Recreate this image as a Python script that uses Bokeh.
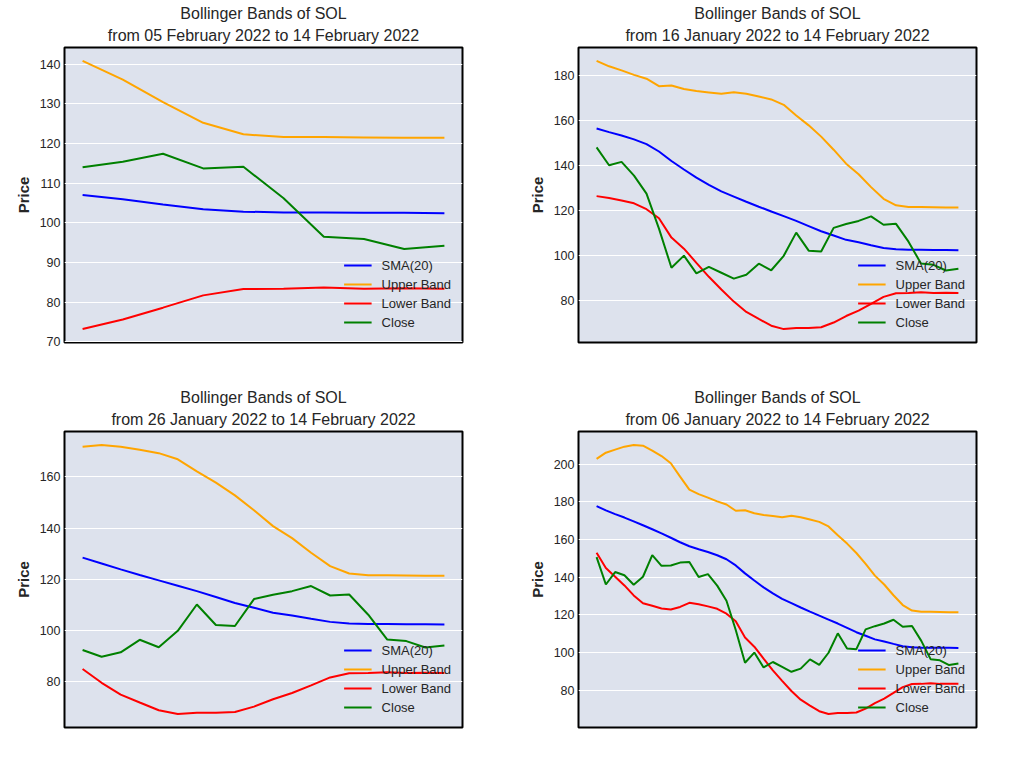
import pandas as pd
from bokeh.plotting import figure
from bokeh.layouts import column, row
from bokeh.models import Range1d, FixedTicker, ColumnDataSource, Title
from bokeh.embed import file_html
from bokeh.resources import INLINE

# ---- data (SOL daily, 06 Jan 2022 .. 14 Feb 2022) ----
start_date = "2022-01-06"
end_date = "2022-02-14"

close = [150.6, 136.1, 142.7, 141.0, 136.0, 140.2, 151.7, 146.0, 146.2, 147.7,
         148.0, 140.1, 141.6, 135.5, 127.5, 112.0, 94.6, 100.0, 92.1, 95.0,
         92.4, 89.8, 91.5, 96.4, 93.5, 99.9, 110.2, 102.2, 101.8, 112.3,
         114.0, 115.4, 117.4, 113.7, 114.1, 106.2, 96.5, 95.9, 93.4, 94.2]

sma20 = [177.7, 175.4, 173.4, 171.6, 169.6, 167.5, 165.4, 163.2, 160.9, 158.5,
         156.4, 154.8, 153.3, 151.6, 149.5, 146.2, 142.0, 138.2, 134.6, 131.4,
         128.5, 126.2, 123.9, 121.7, 119.6, 117.5, 115.4, 113.1, 110.8, 108.9,
         107.0, 105.9, 104.6, 103.4, 102.8, 102.6, 102.6, 102.5, 102.5, 102.4]

upper_band = [202.7, 206.0, 207.6, 209.2, 210.1, 209.7, 207.1, 204.2, 200.4, 193.3,
              186.4, 184.0, 182.2, 180.2, 178.5, 175.2, 175.5, 173.9, 173.0, 172.4,
              171.8, 172.5, 171.8, 170.6, 169.3, 166.9, 162.2, 157.8, 152.8, 147.0,
              140.8, 136.1, 130.4, 125.2, 122.3, 121.6, 121.6, 121.5, 121.4, 121.4]

lower_band = [152.9, 144.8, 140.2, 135.6, 130.3, 126.2, 124.8, 123.4, 122.8, 124.2,
              126.4, 125.6, 124.5, 123.2, 120.6, 116.6, 108.0, 103.1, 96.8, 90.6,
              85.0, 79.6, 75.0, 71.9, 68.9, 67.4, 67.9, 67.9, 68.2, 70.3,
              73.2, 75.6, 78.6, 81.7, 83.3, 83.4, 83.7, 83.4, 83.5, 83.4]

window_days = [10, 30, 20, 40]
y_ticks = [
    [70, 80, 90, 100, 110, 120, 130, 140],
    [80, 100, 120, 140, 160, 180],
    [80, 100, 120, 140, 160],
    [80, 100, 120, 140, 160, 180, 200],
]
series_names = ["SMA(20)", "Upper Band", "Lower Band", "Close"]
series_colors = ["blue", "orange", "red", "green"]

dates = pd.date_range(start_date, end_date, freq="D")

FONT = "Liberation Sans"
TXT = "#262626"
BG = "#dde2ed"

# (width, height, left, right, top, bottom)
geoms = [
    (518, 388, 64, 56, 47, 46),
    (488, 388, 60, 30, 47, 46),
    (518, 359, 64, 56, 43, 20),
    (488, 359, 60, 30, 43, 20),
]


def style_title(t, standoff):
    t.align = "center"
    t.text_font = FONT
    t.text_font_size = "16px"
    t.text_font_style = "normal"
    t.text_color = TXT
    t.standoff = standoff


def make_panel(n, ticks, geom):
    w, h, bl, br, bt, bb = geom
    d = dates[-n:]
    src = ColumnDataSource(dict(
        date=d,
        sma=sma20[-n:],
        upper=upper_band[-n:],
        lower=lower_band[-n:],
        close=close[-n:],
    ))
    ys = sma20[-n:] + upper_band[-n:] + lower_band[-n:] + close[-n:]
    ymin, ymax = min(ys), max(ys)
    ypad = 0.05 * (ymax - ymin)
    xpad = 0.05 * (d[-1] - d[0])

    p = figure(width=w, height=h, x_axis_type="datetime",
               output_backend="svg", toolbar_location=None,
               min_border_left=bl, min_border_right=br,
               min_border_top=bt, min_border_bottom=bb,
               x_range=Range1d(d[0] - xpad, d[-1] + xpad),
               y_range=Range1d(ymin - ypad, ymax + ypad))

    p.title.text = "Bollinger Bands of SOL"
    style_title(p.title, -3)
    t2 = Title(text=f"from {d[0]:%d %B %Y} to {d[-1]:%d %B %Y}")
    style_title(t2, 8)
    p.add_layout(t2, "above")

    for col, name, color in zip(["sma", "upper", "lower", "close"],
                                series_names, series_colors):
        p.line("date", col, source=src, line_color=color, line_width=2,
               legend_label=name)

    p.background_fill_color = BG
    p.border_fill_color = "white"
    p.outline_line_color = "black"
    p.outline_line_width = 2

    p.xaxis.visible = False
    p.xgrid.visible = False
    p.ygrid.grid_line_color = "white"
    p.ygrid.grid_line_width = 1

    ya = p.yaxis[0]
    ya.ticker = FixedTicker(ticks=ticks)
    ya.axis_line_color = None
    ya.major_tick_line_color = None
    ya.minor_tick_line_color = None
    ya.major_tick_out = 0
    ya.major_tick_in = 0
    ya.minor_tick_out = 0
    ya.minor_tick_in = 0
    ya.major_label_standoff = 4
    ya.major_label_text_font = FONT
    ya.major_label_text_font_size = "12.5px"
    ya.major_label_text_color = TXT
    ya.axis_label = "Price"
    ya.axis_label_text_font = FONT
    ya.axis_label_text_font_size = "15px"
    ya.axis_label_text_font_style = "bold"
    ya.axis_label_text_color = TXT
    ya.axis_label_standoff = 5

    lg = p.legend[0]
    lg.location = "bottom_right"
    lg.background_fill_alpha = 0
    lg.border_line_alpha = 0
    lg.label_text_font = FONT
    lg.label_text_font_size = "13px"
    lg.label_text_color = TXT
    lg.glyph_width = 28
    lg.glyph_height = 18
    lg.label_height = 18
    lg.spacing = 1
    lg.padding = 3
    lg.margin = 8
    lg.label_standoff = 10
    return p


panels = [make_panel(n, t, g) for n, t, g in zip(window_days, y_ticks, geoms)]
layout = column(row(panels[0], panels[1]), row(panels[2], panels[3]))

with open("out.html", "w") as f:
    f.write(file_html(layout, INLINE))
